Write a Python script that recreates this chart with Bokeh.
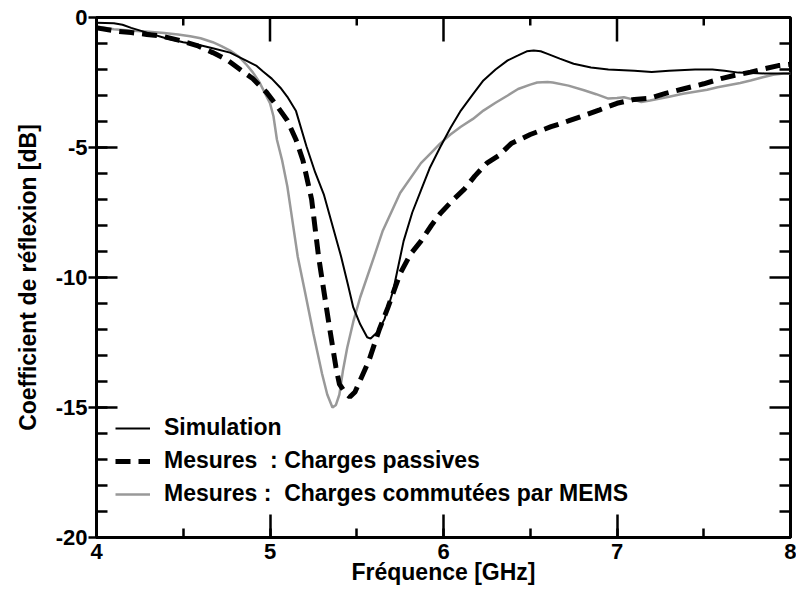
import math
from bokeh.plotting import figure
from bokeh.models import Range1d, SingleIntervalTicker, Legend, LegendItem, PrintfTickFormatter
from bokeh.embed import file_html
from bokeh.resources import INLINE

# ---------------- data ----------------
freq_sim = [4.00, 4.10, 4.15, 4.20, 4.30, 4.40, 4.50, 4.58, 4.67, 4.77, 4.86, 4.92,
            4.96, 5.01, 5.06, 5.10, 5.15, 5.21, 5.26, 5.31, 5.36, 5.41, 5.45, 5.48,
            5.52, 5.56, 5.58, 5.62, 5.66, 5.71, 5.77, 5.82, 5.87, 5.92, 5.98, 6.04,
            6.10, 6.17, 6.23, 6.30, 6.37, 6.43, 6.48, 6.52, 6.56, 6.60, 6.67, 6.75,
            6.85, 6.95, 7.10, 7.20, 7.30, 7.45, 7.55, 7.62, 7.70, 7.85, 8.00]
s11_sim = [-0.20, -0.22, -0.28, -0.40, -0.60, -0.80, -0.95, -1.04, -1.18, -1.35, -1.65, -1.85,
           -2.08, -2.35, -2.70, -3.05, -3.60, -4.95, -5.95, -6.80, -8.00, -9.20, -10.30, -11.15,
           -11.80, -12.30, -12.35, -12.10, -11.60, -10.50, -8.60, -7.50, -6.65, -5.80, -5.00, -4.25,
           -3.58, -2.95, -2.42, -2.00, -1.65, -1.46, -1.30, -1.27, -1.30, -1.40, -1.58, -1.78,
           -1.92, -2.00, -2.05, -2.10, -2.05, -2.00, -2.00, -2.05, -2.12, -2.15, -2.15]

freq_pass = [4.00, 4.12, 4.20, 4.29, 4.38, 4.48, 4.58, 4.67, 4.75, 4.82, 4.90, 4.98,
             5.04, 5.10, 5.15, 5.19, 5.24, 5.28, 5.31, 5.34, 5.38, 5.40, 5.43, 5.46,
             5.49, 5.52, 5.57, 5.63, 5.68, 5.75, 5.81, 5.87, 5.93, 5.98, 6.05, 6.12,
             6.18, 6.25, 6.32, 6.39, 6.50, 6.62, 6.72, 6.81, 6.90, 7.00, 7.10, 7.19,
             7.28, 7.38, 7.50, 7.60, 7.68, 7.77, 7.85, 7.93, 8.00]
s11_pass = [-0.40, -0.53, -0.58, -0.65, -0.72, -0.88, -1.08, -1.35, -1.62, -1.96, -2.35, -2.88,
            -3.40, -3.96, -4.70, -5.50, -7.00, -9.20, -10.50, -11.80, -13.45, -14.10, -14.40, -14.60,
            -14.40, -13.95, -13.20, -12.00, -11.15, -9.85, -9.10, -8.60, -8.00, -7.55, -7.05, -6.60,
            -6.10, -5.60, -5.30, -4.85, -4.50, -4.20, -3.98, -3.77, -3.55, -3.30, -3.15, -3.10,
            -2.92, -2.75, -2.55, -2.35, -2.22, -2.10, -1.97, -1.85, -1.80]

freq_mems = [4.00, 4.10, 4.19, 4.30, 4.39, 4.47, 4.54, 4.60, 4.67, 4.72, 4.77, 4.82,
             4.86, 4.90, 4.94, 4.97, 5.00, 5.02, 5.04, 5.07, 5.10, 5.12, 5.16, 5.20,
             5.25, 5.30, 5.33, 5.36, 5.38, 5.40, 5.42, 5.445, 5.48, 5.52, 5.60, 5.65,
             5.75, 5.87, 5.93, 5.98, 6.04, 6.10, 6.17, 6.23, 6.30, 6.37, 6.43, 6.50,
             6.54, 6.60, 6.63, 6.72, 6.81, 6.88, 6.95, 7.00, 7.04, 7.09, 7.14, 7.19,
             7.30, 7.38, 7.52, 7.58, 7.71, 7.77, 7.84, 7.90, 7.96, 8.00]
s11_mems = [-0.35, -0.45, -0.50, -0.55, -0.60, -0.65, -0.72, -0.80, -0.95, -1.10, -1.27, -1.50,
            -1.78, -2.10, -2.50, -2.90, -3.30, -3.80, -4.70, -5.50, -6.50, -7.40, -9.20, -10.50,
            -12.15, -13.70, -14.50, -15.00, -14.90, -14.50, -13.60, -12.70, -11.70, -10.76, -9.20, -8.20,
            -6.75, -5.60, -5.20, -4.85, -4.50, -4.20, -3.90, -3.58, -3.28, -3.00, -2.75, -2.58,
            -2.50, -2.48, -2.50, -2.62, -2.80, -2.95, -3.12, -3.10, -3.07, -3.15, -3.25, -3.19,
            -3.05, -2.93, -2.78, -2.68, -2.52, -2.42, -2.30, -2.20, -2.15, -2.15]

x_lim = [4, 8]
y_lim = [-20, 0]
x_major_ticks = [4, 5, 6, 7, 8]
x_minor_ticks = [4.5, 5.5, 6.5, 7.5]
y_major_ticks = [-20, -15, -10, -5, 0]
y_minor_ticks = [-19, -18, -17, -16, -14, -13, -12, -11, -9, -8, -7, -6, -4, -3, -2, -1]
label_sim = "Simulation"
label_pass = "Mesures  : Charges passives"
label_mems = "Mesures :  Charges commutées par MEMS"
x_title = "Fréquence [GHz]"
y_title = "Coefficient de réflexion [dB]"

FONT = "Liberation Sans"

p = figure(width=796, height=590, output_backend="svg", toolbar_location=None,
           x_range=Range1d(*x_lim), y_range=Range1d(*y_lim),
           min_border_left=96, min_border_right=6, min_border_top=17, min_border_bottom=53,
           x_axis_label=x_title, y_axis_label=y_title)
p.grid.visible = False
p.outline_line_color = "black"
p.outline_line_width = 3
p.background_fill_color = "white"
p.border_fill_color = "white"

def style_axis(ax):
    ax.axis_line_width = 3
    ax.axis_line_color = "black"
    ax.major_tick_line_width = 2.5
    ax.minor_tick_line_width = 2.5
    ax.major_tick_line_color = "black"
    ax.minor_tick_line_color = "black"
    ax.minor_tick_out = 0
    ax.major_label_text_font = FONT
    ax.major_label_text_font_style = "bold"
    ax.major_label_text_font_size = "22px"
    ax.major_label_text_color = "black"
    ax.axis_label_text_font = FONT
    ax.axis_label_text_font_style = "bold"
    ax.axis_label_text_font_size = "23px"
    ax.axis_label_text_color = "black"

xa = p.xaxis[0]
xa.ticker = SingleIntervalTicker(interval=1, num_minor_ticks=2)
xa.formatter = PrintfTickFormatter(format="%d")
style_axis(xa)
xa.major_tick_in = 23
xa.major_tick_out = 0
xa.minor_tick_in = 9
xa.major_label_standoff = 6
xa.axis_label_standoff = -3

ya = p.yaxis[0]
ya.ticker = SingleIntervalTicker(interval=5, num_minor_ticks=5)
ya.formatter = PrintfTickFormatter(format="%d")
style_axis(ya)
ya.major_tick_in = 21
ya.major_tick_out = 8
ya.minor_tick_in = 11
ya.major_label_standoff = 1
ya.axis_label_standoff = 12

# inward ticks on the top and right edges of the frame
p.ray(x=x_major_ticks, y=[y_lim[1]] * len(x_major_ticks), length=24, length_units="screen",
      angle=-math.pi / 2, line_color="black", line_width=2.5)
p.ray(x=x_minor_ticks, y=[y_lim[1]] * len(x_minor_ticks), length=8, length_units="screen",
      angle=-math.pi / 2, line_color="black", line_width=2.5)
p.ray(x=[x_lim[1]] * len(y_major_ticks), y=y_major_ticks, length=21, length_units="screen",
      angle=math.pi, line_color="black", line_width=2.5)
p.ray(x=[x_lim[1]] * len(y_minor_ticks), y=y_minor_ticks, length=11, length_units="screen",
      angle=math.pi, line_color="black", line_width=2.5)

r_mems = p.line(freq_mems, s11_mems, line_color="#999999", line_width=2.5)
r_pass = p.line(freq_pass, s11_pass, line_color="black", line_width=5, line_dash="15 8")
r_sim = p.line(freq_sim, s11_sim, line_color="black", line_width=2)

legend = Legend(items=[LegendItem(label=label_sim, renderers=[r_sim]),
                       LegendItem(label=label_pass, renderers=[r_pass]),
                       LegendItem(label=label_mems, renderers=[r_mems])],
                location=(19, 30))
legend.label_text_font = FONT
legend.label_text_font_style = "bold"
legend.label_text_font_size = "23px"
legend.label_text_color = "black"
legend.glyph_width = 35
legend.glyph_height = 20
legend.label_height = 20
legend.label_standoff = 14
legend.spacing = 6
legend.padding = 0
legend.margin = 0
legend.border_line_alpha = 0
legend.background_fill_alpha = 0
p.add_layout(legend, "center")

open("out.html", "w").write(file_html(p, INLINE))
